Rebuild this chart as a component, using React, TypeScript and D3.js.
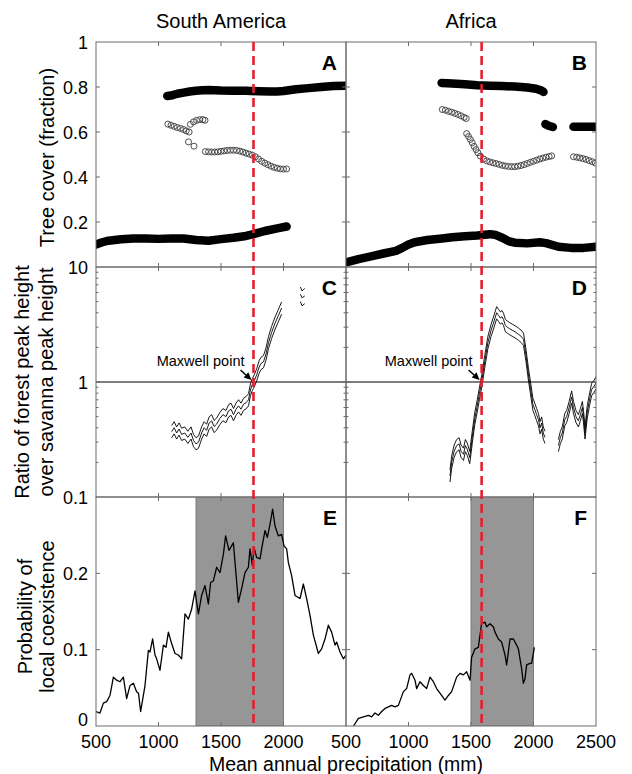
import React from 'react';
import * as d3 from 'd3';

// ---------- layout ----------
const W = 632;
const H = 774;
const COLS: [number, number][] = [[96, 346], [346, 596]];
const ROWS: [number, number][] = [[42, 267], [267, 497], [497, 726]];
const FONT = '"Liberation Sans", Arial, Helvetica, sans-serif';

// ---------- axes / labels ----------
const colTitles = ['South America', 'Africa'];
const panelLetters = [['A', 'B'], ['C', 'D'], ['E', 'F']];
const xTickVals = [1000, 1500, 2000];
const xLabelValsLeft = [500, 1000, 1500, 2000];
const xLabelValsRight = [500, 1000, 1500, 2000, 2500];
const coverTickVals = [0.2, 0.4, 0.6, 0.8];
const coverLabelVals = [1, 0.8, 0.6, 0.4, 0.2];
const ratioLabelVals = [10, 1, 0.1];
const ratioMinorVals = [0.2, 0.3, 0.4, 0.5, 0.6, 0.7, 0.8, 0.9, 2, 3, 4, 5, 6, 7, 8, 9];
const probTickVals = [0.1, 0.2];
const probLabelVals = [0.2, 0.1, 0];
const maxwellMAP = [1760, 1585];
const coexistBand: [number, number][] = [[1300, 2000], [1500, 2000]];

// ---------- panel A (South America tree cover) ----------
const aForest: [number, number][] = [
  [1070, 0.76], [1100, 0.762], [1150, 0.77], [1200, 0.775], [1250, 0.78], [1300, 0.783],
  [1350, 0.786], [1400, 0.787], [1450, 0.786], [1500, 0.784], [1600, 0.783], [1700, 0.783],
  [1800, 0.781], [1900, 0.78], [1950, 0.78], [2000, 0.782], [2100, 0.79], [2200, 0.795],
  [2300, 0.8], [2400, 0.804], [2500, 0.806],
];
const aSavanna: [number, number][] = [
  [500, 0.1], [550, 0.11], [600, 0.117], [700, 0.123], [800, 0.127], [900, 0.127],
  [1000, 0.125], [1100, 0.127], [1200, 0.127], [1300, 0.12], [1400, 0.117], [1500, 0.124],
  [1600, 0.13], [1700, 0.138], [1760, 0.146], [1850, 0.16], [1950, 0.172], [2025, 0.18],
];
const aUnstable: [number, number][] = [
  [1075, 0.635], [1100, 0.63], [1125, 0.625], [1150, 0.62], [1175, 0.616], [1200, 0.611],
  [1222, 0.605], [1245, 0.6], [1255, 0.634], [1280, 0.645], [1305, 0.652], [1330, 0.655],
  [1355, 0.655], [1372, 0.652], [1240, 0.556], [1284, 0.537],
  [1375, 0.513], [1400, 0.512], [1425, 0.511], [1450, 0.511], [1475, 0.512], [1500, 0.514],
  [1525, 0.516], [1550, 0.518], [1575, 0.519], [1600, 0.519], [1625, 0.518], [1650, 0.515],
  [1675, 0.511], [1700, 0.506], [1725, 0.502], [1750, 0.497], [1775, 0.49], [1800, 0.48],
  [1825, 0.47], [1850, 0.462], [1875, 0.455], [1900, 0.448], [1925, 0.443], [1950, 0.439],
  [1975, 0.436], [2000, 0.435], [2025, 0.436],
];

// ---------- panel B (Africa tree cover) ----------
const bForest1: [number, number][] = [
  [1265, 0.818], [1350, 0.816], [1450, 0.812], [1550, 0.808], [1650, 0.806], [1750, 0.804],
  [1850, 0.802], [1950, 0.798], [2020, 0.792], [2060, 0.785], [2080, 0.778],
];
const bForest2: [number, number][] = [[2095, 0.635], [2120, 0.628], [2155, 0.622]];
const bForest3: [number, number][] = [[2320, 0.623], [2400, 0.623], [2500, 0.623]];
const bSavanna: [number, number][] = [
  [500, 0.02], [600, 0.035], [700, 0.047], [800, 0.06], [900, 0.072], [950, 0.085],
  [1000, 0.1], [1050, 0.11], [1150, 0.12], [1250, 0.126], [1350, 0.132], [1450, 0.137],
  [1550, 0.14], [1650, 0.146], [1700, 0.142], [1750, 0.13], [1800, 0.115], [1850, 0.108],
  [1950, 0.105], [2050, 0.11], [2100, 0.106], [2200, 0.09], [2300, 0.085], [2400, 0.085],
  [2500, 0.09],
];
const bUnstable: [number, number][] = [
  [1270, 0.7], [1295, 0.697], [1320, 0.692], [1345, 0.688], [1370, 0.683], [1395, 0.678],
  [1420, 0.672], [1445, 0.665], [1462, 0.66],
  [1465, 0.593], [1480, 0.58], [1495, 0.567], [1510, 0.552], [1525, 0.536], [1540, 0.522],
  [1555, 0.508], [1575, 0.493], [1600, 0.48], [1625, 0.472], [1650, 0.467], [1675, 0.463],
  [1700, 0.46], [1725, 0.456], [1750, 0.452], [1775, 0.449], [1800, 0.447], [1825, 0.446],
  [1850, 0.446], [1875, 0.448], [1900, 0.451], [1925, 0.455], [1950, 0.46], [1975, 0.465],
  [2000, 0.47], [2025, 0.475], [2050, 0.48], [2075, 0.484], [2100, 0.488], [2125, 0.491],
  [2145, 0.494],
  [2320, 0.49], [2345, 0.488], [2370, 0.485], [2395, 0.482], [2420, 0.478], [2445, 0.473],
  [2470, 0.468], [2495, 0.462],
];

// ---------- panel C (South America peak ratio) ----------
const cMap = [1105, 1125, 1145, 1165, 1185, 1210, 1235, 1260, 1280, 1300, 1320, 1345, 1365, 1385, 1405,
  1425, 1445, 1465, 1490, 1515, 1540, 1560, 1580, 1600, 1620, 1640, 1660, 1680, 1700, 1720,
  1735, 1750, 1765, 1785, 1805, 1820, 1840, 1860, 1880, 1905, 1930, 1955, 1985];
const cMid = [0.37, 0.40, 0.36, 0.39, 0.35, 0.36, 0.33, 0.36, 0.31, 0.29, 0.30, 0.36, 0.40, 0.38, 0.44,
  0.46, 0.41, 0.43, 0.48, 0.52, 0.50, 0.56, 0.58, 0.52, 0.58, 0.62, 0.58, 0.64, 0.66, 0.70,
  0.85, 0.95, 1.02, 1.15, 1.35, 1.45, 1.50, 1.75, 2.2, 2.7, 3.2, 3.7, 4.4];
const cHigh = [0.418, 0.452, 0.407, 0.441, 0.396, 0.407, 0.373, 0.407, 0.35, 0.328, 0.339, 0.407, 0.452, 0.429, 0.497,
  0.52, 0.463, 0.486, 0.542, 0.588, 0.565, 0.633, 0.655, 0.588, 0.655, 0.701, 0.655, 0.723, 0.746, 0.791,
  0.961, 1.07, 1.15, 1.3, 1.53, 1.64, 1.7, 1.98, 2.49, 3.05, 3.62, 4.18, 4.97];
const cLow = [0.327, 0.354, 0.319, 0.345, 0.31, 0.319, 0.292, 0.319, 0.274, 0.257, 0.266, 0.319, 0.354, 0.336, 0.389,
  0.407, 0.363, 0.381, 0.425, 0.46, 0.443, 0.496, 0.513, 0.46, 0.513, 0.549, 0.513, 0.566, 0.584, 0.62,
  0.752, 0.841, 0.903, 1.02, 1.19, 1.28, 1.33, 1.55, 1.95, 2.39, 2.83, 3.27, 3.89];
const cTailMap = [2135, 2148, 2170];
const cTailHigh = [6.7, 6.2, 6.5];
const cTailMid = [5.8, 5.4, 5.6];
const cTailLow = [5.0, 4.6, 4.8];

// ---------- panel D (Africa peak ratio) ----------
const dMap1 = [1332, 1345, 1365, 1385, 1405, 1420, 1440, 1455, 1470, 1490, 1510, 1530, 1550, 1568, 1585,
  1610, 1635, 1660, 1685, 1705, 1720, 1735, 1748, 1760, 1775, 1790, 1810, 1835, 1860, 1880,
  1900, 1920, 1940, 1960, 1975, 1995, 2010, 2025, 2040, 2052, 2065, 2078, 2092];
const dMid1 = [0.152, 0.2, 0.25, 0.28, 0.29, 0.25, 0.235, 0.28, 0.26, 0.22, 0.33, 0.48, 0.62, 0.8, 1.0,
  1.5, 2.2, 2.8, 3.4, 4.0, 3.8, 3.6, 3.7, 3.5, 3.1, 3.0, 2.9, 2.8, 2.7, 2.6,
  2.5, 2.35, 1.7, 1.15, 0.9, 0.64, 0.58, 0.52, 0.47, 0.4, 0.44, 0.36, 0.33];
const dHigh1 = [0.172, 0.226, 0.283, 0.316, 0.328, 0.283, 0.266, 0.316, 0.294, 0.249, 0.373, 0.542, 0.701, 0.904, 1.13,
  1.7, 2.49, 3.16, 3.84, 4.52, 4.29, 4.07, 4.18, 3.96, 3.5, 3.39, 3.28, 3.16, 3.05, 2.94,
  2.83, 2.66, 1.92, 1.3, 1.02, 0.723, 0.655, 0.588, 0.531, 0.452, 0.497, 0.407, 0.373];
const dLow1 = [0.135, 0.177, 0.221, 0.248, 0.257, 0.221, 0.208, 0.248, 0.23, 0.195, 0.292, 0.425, 0.549, 0.708, 0.885,
  1.33, 1.95, 2.48, 3.01, 3.54, 3.36, 3.19, 3.27, 3.1, 2.74, 2.66, 2.57, 2.48, 2.39, 2.3,
  2.21, 2.08, 1.5, 1.02, 0.797, 0.566, 0.513, 0.46, 0.416, 0.354, 0.389, 0.319, 0.292];
const dMap2 = [2199, 2215, 2230, 2250, 2265, 2285, 2305, 2320, 2340, 2359, 2375, 2391, 2400, 2412, 2430,
  2450, 2465, 2485, 2505];
const dMid2 = [0.28, 0.33, 0.36, 0.47, 0.5, 0.6, 0.74, 0.6, 0.5, 0.46, 0.52, 0.6, 0.5, 0.36, 0.55,
  0.72, 0.86, 0.92, 1.0];
const dHigh2 = [0.316, 0.373, 0.407, 0.531, 0.565, 0.678, 0.836, 0.678, 0.565, 0.52, 0.588, 0.678, 0.565, 0.407, 0.622,
  0.814, 0.972, 1.04, 1.13];
const dLow2 = [0.248, 0.292, 0.319, 0.416, 0.443, 0.531, 0.655, 0.531, 0.443, 0.407, 0.46, 0.531, 0.443, 0.319, 0.487,
  0.637, 0.761, 0.814, 0.885];

// ---------- panel E (South America coexistence) ----------
const eProb: [number, number][] = [
  [500, 0.019], [532, 0.017], [559, 0.03], [585, 0.032], [612, 0.04], [639, 0.064], [665, 0.06],
  [692, 0.058], [719, 0.064], [745, 0.036], [772, 0.053], [799, 0.056], [825, 0.045], [840, 0.043],
  [857, 0.019], [879, 0.04], [892, 0.053], [919, 0.099], [932, 0.097], [953, 0.114], [972, 0.093],
  [985, 0.088], [1012, 0.073], [1039, 0.106], [1060, 0.103], [1079, 0.123], [1105, 0.108],
  [1132, 0.095], [1159, 0.093], [1185, 0.088], [1212, 0.147], [1239, 0.14], [1265, 0.153],
  [1292, 0.177], [1319, 0.147], [1345, 0.171], [1372, 0.184], [1399, 0.16], [1417, 0.188],
  [1439, 0.19], [1465, 0.208], [1492, 0.201], [1519, 0.225], [1537, 0.249], [1564, 0.23],
  [1599, 0.24], [1639, 0.162], [1665, 0.18], [1692, 0.201], [1719, 0.208], [1732, 0.232],
  [1751, 0.21], [1764, 0.234], [1785, 0.221], [1812, 0.219], [1825, 0.232], [1852, 0.256],
  [1871, 0.247], [1892, 0.264], [1913, 0.284], [1932, 0.262], [1959, 0.249], [1985, 0.251],
  [2004, 0.236], [2025, 0.232], [2039, 0.214], [2065, 0.197], [2092, 0.171], [2132, 0.167],
  [2159, 0.186], [2185, 0.167], [2212, 0.145], [2239, 0.119], [2279, 0.095], [2305, 0.101],
  [2332, 0.114], [2359, 0.132], [2385, 0.123], [2412, 0.106], [2425, 0.11], [2452, 0.097],
  [2479, 0.088], [2500, 0.093],
];

// ---------- panel F (Africa coexistence) ----------
const fProb: [number, number][] = [
  [560, 0.0], [599, 0.01], [639, 0.012], [679, 0.014], [705, 0.012], [732, 0.017], [759, 0.014],
  [785, 0.019], [812, 0.023], [839, 0.025], [865, 0.027], [892, 0.025], [919, 0.027], [959, 0.045],
  [985, 0.049], [1012, 0.067], [1025, 0.069], [1052, 0.06], [1065, 0.049], [1092, 0.058],
  [1119, 0.053], [1145, 0.049], [1172, 0.064], [1199, 0.058], [1225, 0.049], [1265, 0.04],
  [1292, 0.034], [1319, 0.04], [1345, 0.045], [1385, 0.064], [1412, 0.069], [1439, 0.067],
  [1465, 0.071], [1492, 0.06], [1505, 0.09], [1532, 0.101], [1559, 0.103], [1572, 0.119],
  [1585, 0.134], [1612, 0.136], [1625, 0.13], [1652, 0.134], [1679, 0.13], [1692, 0.123],
  [1719, 0.114], [1745, 0.11], [1772, 0.093], [1785, 0.08], [1799, 0.097], [1812, 0.114],
  [1839, 0.114], [1865, 0.106], [1879, 0.101], [1905, 0.075], [1919, 0.056], [1932, 0.062],
  [1945, 0.08], [1972, 0.082], [1985, 0.082], [2007, 0.103],
];

const zip = (a: number[], b: number[]): [number, number][] => a.map((v, i) => [v, b[i]]);

export default function App() {
  const xs = COLS.map(([a, b]) => d3.scaleLinear().domain([500, 2500]).range([a, b]));
  const yCover = d3.scaleLinear().domain([0, 1]).range([ROWS[0][1], ROWS[0][0]]);
  const yRatio = d3.scaleLog().domain([0.1, 10]).range([ROWS[1][1], ROWS[1][0]]);
  const yProb = d3.scaleLinear().domain([0, 0.3]).range([ROWS[2][1], ROWS[2][0]]);
  const yScales: any[] = [yCover, yRatio, yProb];

  const line = (c: number, r: number) =>
    d3.line<[number, number]>().x((d) => xs[c](d[0])).y((d) => yScales[r](d[1]));

  const clipId = (c: number, r: number) => `clip-${c}-${r}`;
  const TICK = 4;
  const frame = '#6a6a6a';

  const thick = (c: number, data: [number, number][], key: string) => (
    <path key={key} d={line(c, 0)(data) || ''} fill="none" stroke="#000" strokeWidth={8.5}
      strokeLinecap="round" strokeLinejoin="round" />
  );
  const circles = (c: number, data: [number, number][], key: string) => (
    <g key={key}>
      {data.map((d, i) => (
        <circle key={i} cx={xs[c](d[0])} cy={yCover(d[1])} r={3} fill="none" stroke="#3a3a3a" strokeWidth={0.9} />
      ))}
    </g>
  );
  const thin = (c: number, map: number[], vals: number[], key: string, w = 0.9) => (
    <path key={key} d={line(c, 1)(zip(map, vals)) || ''} fill="none" stroke="#000" strokeWidth={w}
      strokeLinejoin="round" />
  );

  const maxwell = (c: number) => {
    const tx = xs[c](maxwellMAP[c]);
    const ty = yRatio(1);
    const x0 = tx - 13, y0 = ty - 12, x1 = tx - 2, y1 = ty - 2;
    const ang = Math.atan2(y1 - y0, x1 - x0);
    const hl = 7.5, hw = 3.5;
    const bx = x1 - hl * Math.cos(ang), by = y1 - hl * Math.sin(ang);
    const px = -Math.sin(ang) * hw, py = Math.cos(ang) * hw;
    return (
      <g key={`mx${c}`}>
        <text x={tx - 9} y={ty - 16} textAnchor="end" fontSize={14.5} fontFamily={FONT}>Maxwell point</text>
        <line x1={x0} y1={y0} x2={bx} y2={by} stroke="#000" strokeWidth={1.5} />
        <polygon points={`${x1},${y1} ${bx + px},${by + py} ${bx - px},${by - py}`} fill="#000" />
      </g>
    );
  };

  const panelContent = (c: number, r: number) => {
    if (r === 0) {
      if (c === 0) return [thick(0, aForest, 'f'), thick(0, aSavanna, 's'), circles(0, aUnstable, 'u')];
      return [thick(1, bForest1, 'f1'), thick(1, bForest2, 'f2'), thick(1, bForest3, 'f3'),
        thick(1, bSavanna, 's'), circles(1, bUnstable, 'u')];
    }
    if (r === 1) {
      const one = <line key="one" x1={COLS[c][0]} x2={COLS[c][1]} y1={yRatio(1)} y2={yRatio(1)} stroke="#000" strokeWidth={1.2} />;
      if (c === 0) return [one, thin(0, cMap, cHigh, 'h'), thin(0, cMap, cMid, 'm'), thin(0, cMap, cLow, 'l'),
        thin(0, cTailMap, cTailHigh, 'th'), thin(0, cTailMap, cTailMid, 'tm'), thin(0, cTailMap, cTailLow, 'tl')];
      return [one, thin(1, dMap1, dHigh1, 'h1'), thin(1, dMap1, dMid1, 'm1'), thin(1, dMap1, dLow1, 'l1'),
        thin(1, dMap2, dHigh2, 'h2'), thin(1, dMap2, dMid2, 'm2'), thin(1, dMap2, dLow2, 'l2')];
    }
    const band = coexistBand[c];
    const data = c === 0 ? eProb : fProb;
    return [
      <rect key="band" x={xs[c](band[0])} y={ROWS[2][0]} width={xs[c](band[1]) - xs[c](band[0])}
        height={ROWS[2][1] - ROWS[2][0]} fill="#969696" stroke="#7a7a7a" strokeWidth={1} />,
      <path key="p" d={line(c, 2)(data) || ''} fill="none" stroke="#000" strokeWidth={1.3} strokeLinejoin="round" />,
    ];
  };

  const ticks = (c: number, r: number) => {
    const [x0, x1] = COLS[c];
    const [y0, y1] = ROWS[r];
    const els: JSX.Element[] = [];
    xTickVals.forEach((v, i) => {
      const x = xs[c](v);
      els.push(<line key={`xt${i}`} x1={x} x2={x} y1={y1} y2={y1 - TICK} stroke={frame} />);
      els.push(<line key={`xb${i}`} x1={x} x2={x} y1={y0} y2={y0 + TICK} stroke={frame} />);
    });
    const yt: [number, number][] = [];
    if (r === 0) coverTickVals.forEach((v) => yt.push([yCover(v), TICK]));
    if (r === 1) {
      yt.push([yRatio(1), TICK]);
      ratioMinorVals.forEach((v) => yt.push([yRatio(v), 2.5]));
    }
    if (r === 2) probTickVals.forEach((v) => yt.push([yProb(v), TICK]));
    yt.forEach(([y, len], i) => {
      els.push(<line key={`yl${i}`} x1={x0} x2={x0 + len} y1={y} y2={y} stroke={frame} />);
      els.push(<line key={`yr${i}`} x1={x1} x2={x1 - len} y1={y} y2={y} stroke={frame} />);
    });
    return els;
  };

  const tickLabel = (y: number, txt: string, key: string) => (
    <text key={key} x={88} y={y + 6.5} textAnchor="end" fontSize={18} fontFamily={FONT}>{txt}</text>
  );

  return (
    <svg width={W} height={H} style={{ position: 'absolute', left: 0, top: 0, background: '#fff' }}
      fontFamily={FONT}>
      <rect x={0} y={0} width={W} height={H} fill="#fff" />
      <defs>
        {[0, 1].map((c) => [0, 1, 2].map((r) => (
          <clipPath key={`${c}${r}`} id={clipId(c, r)}>
            <rect x={COLS[c][0]} y={ROWS[r][0]} width={COLS[c][1] - COLS[c][0]} height={ROWS[r][1] - ROWS[r][0]} />
          </clipPath>
        )))}
      </defs>

      {[0, 1].map((c) => [0, 1, 2].map((r) => (
        <g key={`p${c}${r}`}>
          <g clipPath={`url(#${clipId(c, r)})`}>{panelContent(c, r)}</g>
          <rect x={COLS[c][0]} y={ROWS[r][0]} width={COLS[c][1] - COLS[c][0]} height={ROWS[r][1] - ROWS[r][0]}
            fill="none" stroke={frame} strokeWidth={1} />
          {ticks(c, r)}
          <text x={COLS[c][1] - 9} y={ROWS[r][0] + 28} textAnchor="end" fontSize={21} fontWeight="bold">
            {panelLetters[r][c]}
          </text>
        </g>
      )))}

      {maxwell(0)}
      {maxwell(1)}

      {/* red dashed Maxwell lines */}
      {[0, 1].map((c) => (
        <line key={`red${c}`} x1={xs[c](maxwellMAP[c])} x2={xs[c](maxwellMAP[c])} y1={ROWS[0][0]} y2={ROWS[2][1]}
          stroke="#e3202c" strokeWidth={2.6} strokeDasharray="9,5" />
      ))}

      {/* column titles */}
      {colTitles.map((t, c) => (
        <text key={t} x={(COLS[c][0] + COLS[c][1]) / 2} y={28} textAnchor="middle" fontSize={20}>{t}</text>
      ))}

      {/* y tick labels */}
      {coverLabelVals.map((v, i) => tickLabel(yCover(v), String(v), `cl${i}`))}
      {ratioLabelVals.map((v, i) => tickLabel(yRatio(v), String(v), `rl${i}`))}
      {probLabelVals.map((v, i) => tickLabel(yProb(v) - (v === 0 ? 7 : 0), String(v), `pl${i}`))}

      {/* x tick labels */}
      {xLabelValsLeft.map((v, i) => (
        <text key={`xl${i}`} x={xs[0](v)} y={748} textAnchor="middle" fontSize={18}>{v}</text>
      ))}
      {xLabelValsRight.map((v, i) => (
        <text key={`xr${i}`} x={xs[1](v)} y={748} textAnchor="middle" fontSize={18}>{v}</text>
      ))}
      <text x={346} y={771} textAnchor="middle" fontSize={19.5}>Mean annual precipitation (mm)</text>

      {/* y axis titles */}
      <text transform={`translate(47,${(ROWS[0][0] + ROWS[0][1]) / 2 + 3}) rotate(-90)`} textAnchor="middle"
        dominantBaseline="central" fontSize={20}>Tree cover (fraction)</text>
      <text transform={`translate(22,${(ROWS[1][0] + ROWS[1][1]) / 2}) rotate(-90)`} textAnchor="middle"
        dominantBaseline="central" fontSize={20}>Ratio of forest peak height</text>
      <text transform={`translate(46,${(ROWS[1][0] + ROWS[1][1]) / 2}) rotate(-90)`} textAnchor="middle"
        dominantBaseline="central" fontSize={20}>over savanna peak height</text>
      <text transform={`translate(25,${(ROWS[2][0] + ROWS[2][1]) / 2 + 5}) rotate(-90)`} textAnchor="middle"
        dominantBaseline="central" fontSize={20}>Probability of</text>
      <text transform={`translate(47,${(ROWS[2][0] + ROWS[2][1]) / 2 + 5}) rotate(-90)`} textAnchor="middle"
        dominantBaseline="central" fontSize={20}>local coexistence</text>
    </svg>
  );
}
